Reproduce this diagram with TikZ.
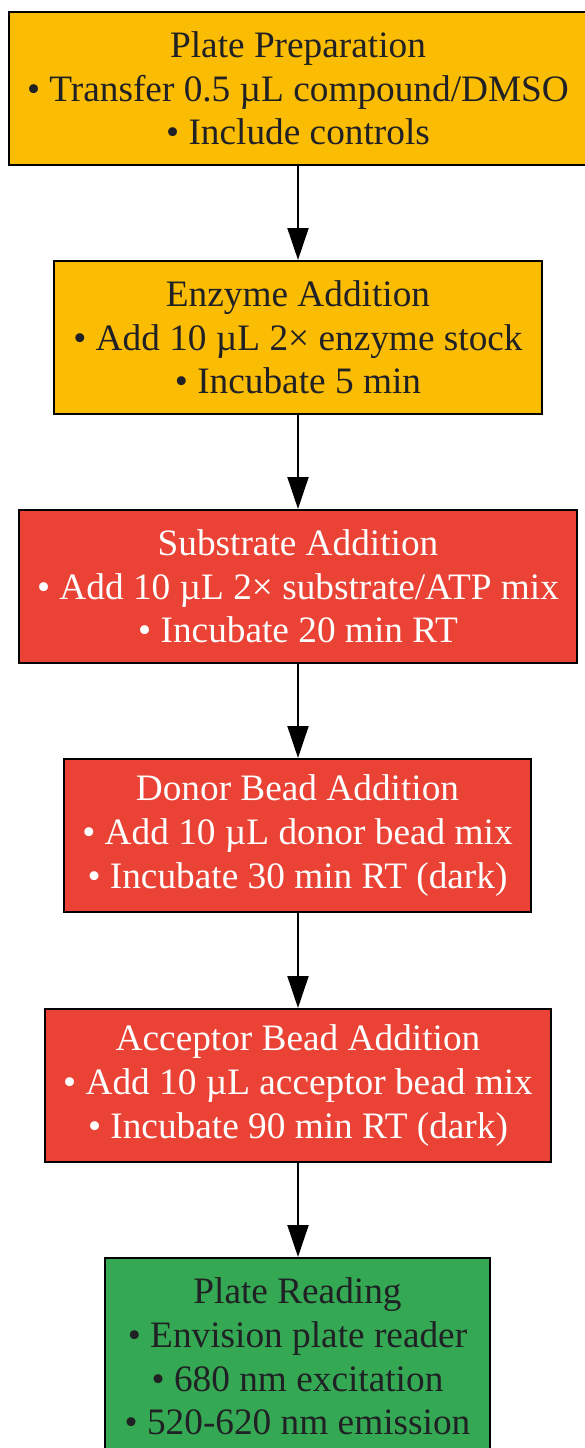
\documentclass[tikz,border=0pt]{standalone}
\usepackage{fontspec}
\setmainfont{Liberation Serif}
\usetikzlibrary{arrows.meta}
\definecolor{gyellow}{HTML}{FBBC04}
\definecolor{gred}{HTML}{EA4335}
\definecolor{ggreen}{HTML}{34A853}
\definecolor{dtext}{HTML}{202124}
\tikzset{
  stepbox/.style={draw=black, line width=2pt, align=center, inner sep=0pt,
    minimum height=153pt, font=\fontsize{37.3}{43.6}\selectfont},
  ylw/.style={stepbox, fill=gyellow, text=dtext},
  rd/.style={stepbox, fill=gred, text=white},
  grn/.style={stepbox, fill=ggreen, text=dtext},
  conn/.style={line width=2pt, -{Triangle[length=32pt, width=21pt]}}
}
\begin{document}
\begin{tikzpicture}[x=1pt,y=-1pt]
\useasboundingbox (0,0) rectangle (584,1448);
\node[ylw, minimum width=578pt] (p1) at (298,88.5) {Plate Preparation\\• Transfer 0.5 µL compound/DMSO\\• Include controls};
\node[ylw, minimum width=488pt] (p2) at (298,337.5) {Enzyme Addition\\• Add 10 µL 2× enzyme stock\\• Incubate 5 min};
\node[rd, minimum width=558pt] (p3) at (298,586.5) {Substrate Addition\\• Add 10 µL 2× substrate/ATP mix\\• Incubate 20 min RT};
\node[rd, minimum width=467pt] (p4) at (297.5,835.5) {Donor Bead Addition\\• Add 10 µL donor bead mix\\• Incubate 30 min RT (dark)};
\node[rd, minimum width=506pt] (p5) at (298,1085.5) {Acceptor Bead Addition\\• Add 10 µL acceptor bead mix\\• Incubate 90 min RT (dark)};
\node[grn, minimum width=385pt, minimum height=197pt] (p6) at (297.5,1356.5) {Plate Reading\\• Envision plate reader\\• 680 nm excitation\\• 520-620 nm emission};
\draw[conn] (p1.south -| 298,0) -- (p2.north -| 298,0);
\draw[conn] (p2.south -| 298,0) -- (p3.north -| 298,0);
\draw[conn] (p3.south -| 298,0) -- (p4.north -| 298,0);
\draw[conn] (p4.south -| 298,0) -- (p5.north -| 298,0);
\draw[conn] (p5.south -| 298,0) -- (p6.north -| 298,0);
\end{tikzpicture}
\end{document}
